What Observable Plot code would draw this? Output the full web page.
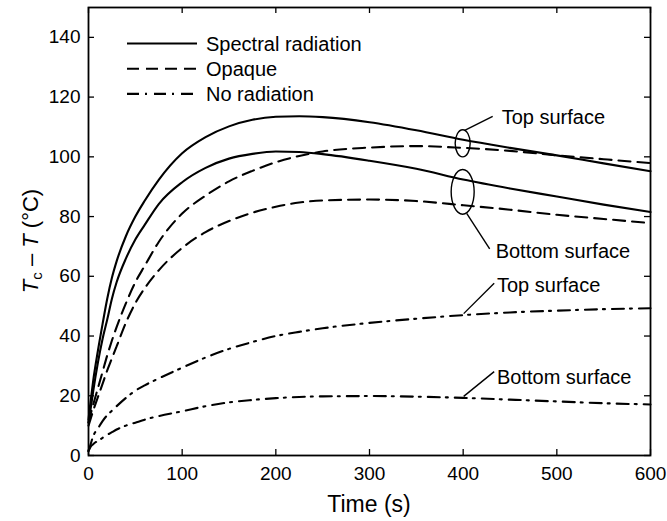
<!DOCTYPE html>
<html>
<head>
<meta charset="utf-8">
<script src="https://cdn.jsdelivr.net/npm/d3@7"></script>
<script src="https://cdn.jsdelivr.net/npm/@observablehq/plot@0.6"></script>
<style>
html, body { margin: 0; padding: 0; background: #fff; }
#chart { width: 667px; height: 521px; }
</style>
</head>
<body>
<div id="chart"></div>
<script>
// ---- Data ----
const time          = [0, 2, 5, 10, 15, 20, 25, 30, 40, 50, 60, 75, 100, 125, 150, 175, 200, 225, 250, 300, 350, 400, 450, 500, 550, 600];
const spectralTop   = [12, 17.5, 25, 35, 44, 52.5, 59.5, 65, 73.5, 80, 85.3, 92.3, 101.2, 106.6, 110.2, 112.4, 113.4, 113.6, 113.3, 111.6, 108.9, 105.7, 103, 100.5, 97.8, 95.2];
const spectralBot   = [11, 15, 21.5, 31, 39, 45.5, 52.5, 58, 66, 72.3, 77.2, 84.2, 91.5, 96.3, 99.4, 101, 101.8, 101.6, 100.9, 98.7, 96, 92.4, 89.4, 86.7, 84, 81.5];
const opaqueTop     = [11, 13.5, 17, 22.5, 28, 33.5, 38.5, 43, 51, 58, 63.5, 71.5, 81, 87, 91.8, 95.3, 98.2, 100.3, 101.8, 103.1, 103.6, 103, 102, 100.5, 99.2, 97.9];
const opaqueBot     = [10, 12, 15, 19.5, 24, 28.5, 32.5, 36.5, 44.5, 51, 56, 62, 69.5, 74.8, 78.5, 81.3, 83.3, 84.7, 85.4, 85.7, 85.2, 83.8, 82.3, 80.6, 79.2, 77.8];
const noRadTop      = [1.5, 3.5, 6.5, 9, 11.5, 13.5, 15, 16.5, 19.3, 21.7, 23.5, 25.8, 29.4, 32.8, 35.7, 38, 40, 41.4, 42.6, 44.4, 45.8, 47, 47.9, 48.5, 49, 49.3];
const noRadBot      = [1.5, 2.8, 3.8, 4.9, 5.9, 6.9, 7.8, 8.7, 10, 11, 12, 13.2, 14.8, 16.5, 17.8, 18.6, 19.2, 19.6, 19.8, 19.9, 19.7, 19.3, 18.7, 18.1, 17.5, 17.1];

const xTicks = [0, 100, 200, 300, 400, 500, 600];
const yTicks = [0, 20, 40, 60, 80, 100, 120, 140];
const legendLabels = ["Spectral radiation", "Opaque", "No radiation"];
const surfaceLabels = ["Top surface", "Bottom surface"];
const annotationTime = 400;

// ---- Styles ----
const dashes = { "Spectral radiation": null, "Opaque": "12,7", "No radiation": "12,6,2,7" };
const FONT = "'Liberation Sans', Arial, Helvetica, sans-serif";
const LW = 2.1;

const series = [
  { kind: "Spectral radiation", values: spectralTop },
  { kind: "Spectral radiation", values: spectralBot },
  { kind: "Opaque", values: opaqueTop },
  { kind: "Opaque", values: opaqueBot },
  { kind: "No radiation", values: noRadTop },
  { kind: "No radiation", values: noRadBot }
];

const W = 667, H = 521, mT = 7, mR = 17, mB = 66, mL = 88;
const plotW = W - mL - mR, plotH = H - mT - mB;
const TICK = 6;

const plot = Plot.plot({
  width: W, height: H,
  marginTop: mT, marginRight: mR, marginBottom: mB, marginLeft: mL,
  style: { fontFamily: FONT, fontSize: "19px", color: "#000", background: "#fff", overflow: "visible" },
  x: { domain: [0, 600], label: null },
  y: { domain: [0, 150], label: null },
  marks: [
    ...series.map(s => Plot.line(time.map((t, i) => ({ t, v: s.values[i] })), {
      x: "t", y: "v", curve: "monotone-x", stroke: "#000", strokeWidth: LW,
      strokeDasharray: dashes[s.kind]
    })),
    Plot.tickX(xTicks, { x: d => d, insetTop: plotH - TICK, stroke: "#000", strokeWidth: 1.3 }),
    Plot.tickX(xTicks, { x: d => d, insetBottom: plotH - TICK, stroke: "#000", strokeWidth: 1.3 }),
    Plot.tickY(yTicks, { y: d => d, insetRight: plotW - TICK, stroke: "#000", strokeWidth: 1.3 }),
    Plot.tickY(yTicks, { y: d => d, insetLeft: plotW - TICK, stroke: "#000", strokeWidth: 1.3 }),
    Plot.axisX(xTicks, { tickSize: 0, tickPadding: 11, label: null, fontSize: 19 }),
    Plot.axisY(yTicks, { tickSize: 0, tickPadding: 8, label: null, fontSize: 19 }),
    Plot.frame({ stroke: "#000", strokeWidth: 1.8 })
  ]
});

document.getElementById("chart").appendChild(plot);

// ---- Annotations, legend and axis titles through the plot's own scales ----
const svg = d3.select(plot);
const xs = plot.scale("x"), ys = plot.scale("y");
const X = v => xs.apply(v), Y = v => ys.apply(v);
const ia = time.indexOf(annotationTime);
const g = svg.append("g").attr("fill", "none").attr("stroke", "#000").attr("stroke-width", 1.4);
const tg = svg.append("g").attr("font-family", FONT).attr("font-size", 20).attr("fill", "#000")
  .attr("text-anchor", "start");

function addLabel(x, y, text) {
  tg.append("text").attr("x", x).attr("y", y).attr("text-anchor", "start")
    .attr("dominant-baseline", "central").text(text);
}

// Radiation groups: ellipse around the pair of curves at t = 400
const groups = [
  { a: spectralTop[ia], b: opaqueTop[ia], rx: 7.5, pad: 9.5, label: surfaceLabels[0], up: true },
  { a: spectralBot[ia], b: opaqueBot[ia], rx: 11.5, pad: 9.5, label: surfaceLabels[1], up: false }
];
groups.forEach(grp => {
  const cx = X(annotationTime);
  const cy = (Y(grp.a) + Y(grp.b)) / 2;
  const ry = Math.abs(Y(grp.a) - Y(grp.b)) / 2 + grp.pad;
  g.append("ellipse").attr("cx", cx).attr("cy", cy).attr("rx", grp.rx).attr("ry", ry);
  if (grp.up) {
    g.append("line").attr("x1", cx + 2).attr("y1", cy - ry + 0.5).attr("x2", cx + 30).attr("y2", cy - 27);
    addLabel(cx + 39, cy - 26, grp.label);
  } else {
    g.append("line").attr("x1", cx + 4).attr("y1", cy + ry - 0.8).attr("x2", cx + 27).attr("y2", cy + 57);
    addLabel(cx + 33, cy + 59, grp.label);
  }
});

// No-radiation curves: leader lines from the curve at t = 400
[
  { v: noRadTop[ia], dy: -31.4, ty: -29.2, label: surfaceLabels[0] },
  { v: noRadBot[ia], dy: -25.7, ty: -20, label: surfaceLabels[1] }
].forEach(d => {
  const x0 = X(annotationTime), y0 = Y(d.v);
  g.append("line").attr("x1", x0 + 1).attr("y1", y0 - 1).attr("x2", x0 + 31.5).attr("y2", y0 + d.dy);
  addLabel(x0 + 34.3, y0 + d.ty, d.label);
});

// Legend (inside the frame, top-left)
legendLabels.forEach((lab, i) => {
  const y = mT + 36.5 + i * 25.2;
  const ln = g.append("line").attr("x1", mL + 39).attr("x2", mL + 109).attr("y1", y).attr("y2", y)
    .attr("stroke-width", LW);
  if (dashes[lab]) ln.attr("stroke-dasharray", dashes[lab]);
  addLabel(mL + 118, y + 0.5, lab);
});

// Axis titles
svg.append("text")
  .attr("x", mL + plotW / 2).attr("y", 512)
  .attr("text-anchor", "middle")
  .attr("font-family", FONT).attr("font-size", 23).attr("fill", "#000")
  .text("Time (s)");

const yl = svg.append("text")
  .attr("transform", `translate(37.5, ${mT + plotH / 2 + 10}) rotate(-90)`)
  .attr("text-anchor", "middle")
  .attr("font-family", FONT).attr("font-size", 22).attr("fill", "#000");
yl.append("tspan").attr("font-style", "italic").text("T");
yl.append("tspan").attr("font-size", 15).attr("dy", 4).text("c");
yl.append("tspan").attr("dy", -4).text(" – ");
yl.append("tspan").attr("font-style", "italic").text("T");
yl.append("tspan").text(" (°C)");
</script>
</body>
</html>
